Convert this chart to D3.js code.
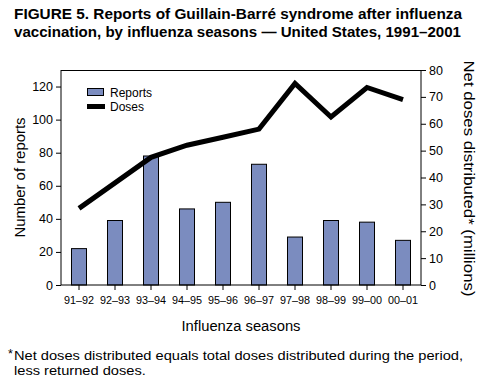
<!DOCTYPE html>
<html><head><meta charset="utf-8">
<script src="https://cdn.jsdelivr.net/npm/d3@7"></script>
<style>body{margin:0;background:#fff;}svg{display:block;font-family:"Liberation Sans",Arial,sans-serif;}</style>
</head><body>
<script>
const seasons = ["91–92","92–93","93–94","94–95","95–96","96–97","97–98","98–99","99–00","00–01"];
const reports = [22, 39, 78, 46, 50, 73, 29, 39, 38, 27];
const doses = [28.5, 38, 47.5, 52, 55, 58, 75, 62.5, 73.5, 69];
const leftTicks = [0,20,40,60,80,100,120];
const rightTicks = [0,10,20,30,40,50,60,70,80];

const W=477,H=390;
const m={l:61,r:56,t:70,b:105};
const svg=d3.select("body").append("svg").attr("width",W).attr("height",H);
const x=d3.scaleBand().domain(seasons).range([m.l,W-m.r]);
const yL=d3.scaleLinear().domain([0,130]).range([H-m.b,m.t]);
const yR=d3.scaleLinear().domain([0,80]).range([H-m.b,m.t]);

// title
svg.append("text").attr("x",14).attr("y",19).attr("font-weight","bold").attr("font-size",15.3)
  .attr("textLength",448).attr("lengthAdjust","spacingAndGlyphs").text("FIGURE 5. Reports of Guillain-Barré syndrome after influenza");
svg.append("text").attr("x",14).attr("y",37).attr("font-weight","bold").attr("font-size",15.3)
  .attr("textLength",447).attr("lengthAdjust","spacingAndGlyphs").text("vaccination, by influenza seasons — United States, 1991–2001");

// frame top
svg.append("line").attr("x1",m.l).attr("x2",W-m.r).attr("y1",m.t+0.5).attr("y2",m.t+0.5).attr("stroke","#000");

// bars
const bw=15;
svg.selectAll("rect.bar").data(reports).join("rect").attr("class","bar")
 .attr("x",(d,i)=>x(seasons[i])+x.bandwidth()/2-bw/2)
 .attr("y",d=>yL(d)).attr("width",bw).attr("height",d=>yL(0)-yL(d))
 .attr("fill","#7b8cbf").attr("stroke","#000").attr("stroke-width",1);

// line
svg.append("path").datum(doses).attr("fill","none").attr("stroke","#000").attr("stroke-width",5)
 .attr("d",d3.line().x((d,i)=>x(seasons[i])+x.bandwidth()/2).y(d=>yR(d)));

// axes
const axL=svg.append("g").attr("transform",`translate(${m.l},0)`).call(d3.axisLeft(yL).tickValues(leftTicks).tickSize(5).tickPadding(3));
const axR=svg.append("g").attr("transform",`translate(${W-m.r},0)`).call(d3.axisRight(yR).tickValues(rightTicks).tickSize(5).tickPadding(3));
const axB=svg.append("g").attr("transform",`translate(0,${H-m.b})`).call(d3.axisBottom(x).tickSize(5).tickPadding(6));
[axL,axR].forEach(a=>{a.selectAll("text").attr("font-size",12.5).attr("font-family","Liberation Sans, Arial").attr("fill","#000");});
axB.selectAll("text").attr("font-size",10.8).attr("font-family","Liberation Sans, Arial").attr("fill","#000");
[axL,axR,axB].forEach(a=>{a.select(".domain").attr("stroke","#000");a.selectAll(".tick line").attr("stroke","#000");});
axL.select(".domain").attr("d",`M-0,${H-m.b}V${m.t}`);
axR.select(".domain").attr("d",`M0,${H-m.b}V${m.t}`);
axB.select(".domain").attr("d",`M${m.l},0H${W-m.r}`);

// axis titles
svg.append("text").attr("transform",`translate(25,${(m.t+H-m.b)/2}) rotate(-90)`).attr("text-anchor","middle").attr("font-size",14)
  .attr("textLength",120).attr("lengthAdjust","spacingAndGlyphs").text("Number of reports");
svg.append("text").attr("transform",`translate(464,${(m.t+H-m.b)/2 + 1}) rotate(90)`).attr("text-anchor","middle").attr("font-size",14)
  .attr("textLength",236).attr("lengthAdjust","spacingAndGlyphs").text("Net doses distributed* (millions)");
svg.append("text").attr("x",(m.l+W-m.r)/2).attr("y",331).attr("text-anchor","middle").attr("font-size",14)
  .attr("textLength",119).attr("lengthAdjust","spacingAndGlyphs").text("Influenza seasons");

// legend
svg.append("rect").attr("x",87.5).attr("y",88.5).attr("width",16).attr("height",7).attr("fill","#7b8cbf").attr("stroke","#000");
svg.append("text").attr("x",110).attr("y",97).attr("font-size",12).text("Reports");
svg.append("line").attr("x1",87).attr("x2",105).attr("y1",106.5).attr("y2",106.5).attr("stroke","#000").attr("stroke-width",5);
svg.append("text").attr("x",110).attr("y",111).attr("font-size",12).text("Doses");

// footnote
svg.append("text").attr("x",8).attr("y",358).attr("font-size",12.5).text("*");
const f1=svg.append("text").attr("x",14).attr("y",360).attr("font-size",13)
  .text("Net doses distributed equals total doses distributed during the period,");
const f2=svg.append("text").attr("x",14).attr("y",375).attr("font-size",13)
  .text("less returned doses.");
const s=449/f1.node().getComputedTextLength();
f2.attr("textLength",f2.node().getComputedTextLength()*s).attr("lengthAdjust","spacingAndGlyphs");
f1.attr("textLength",449).attr("lengthAdjust","spacingAndGlyphs");
</script>
</body></html>
